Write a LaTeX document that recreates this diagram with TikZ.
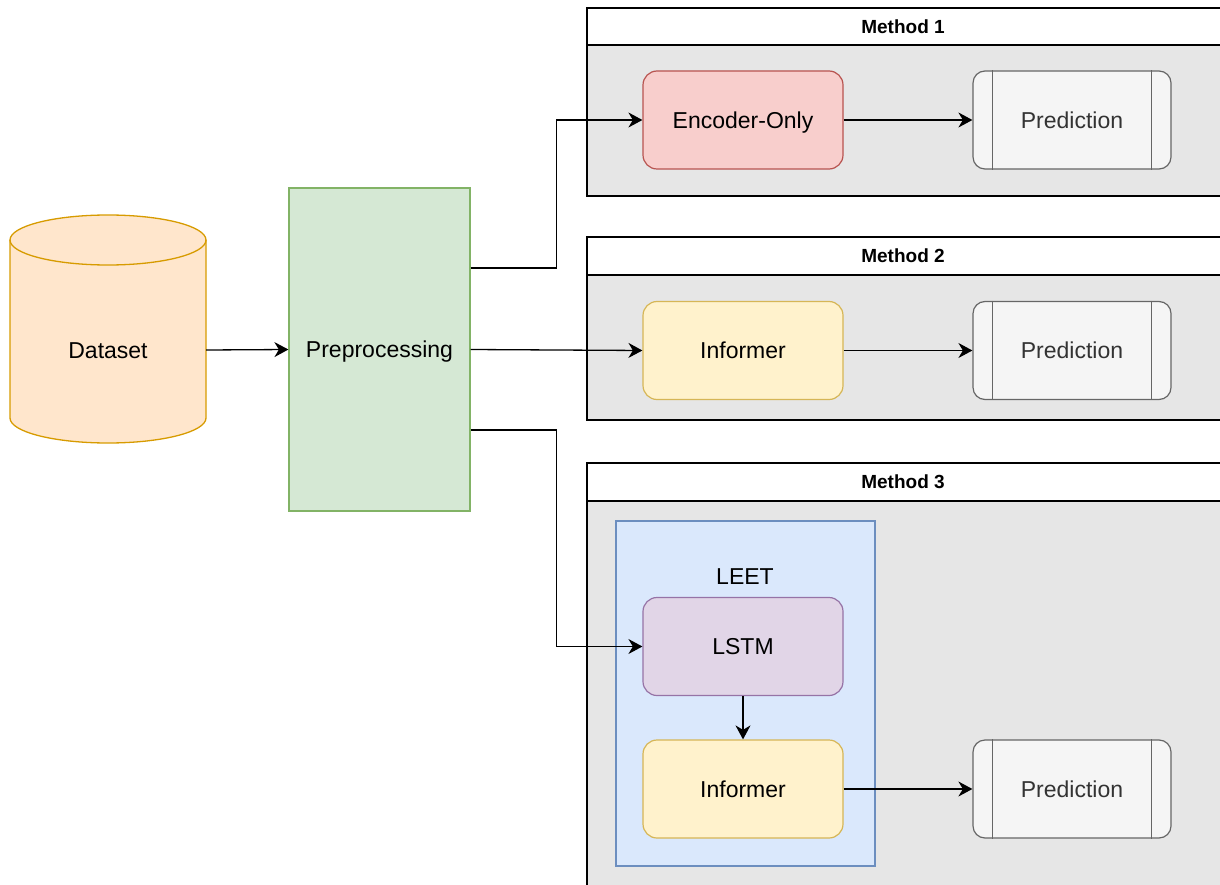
\documentclass[tikz,border=0pt]{standalone}
\usepackage{fontspec}
\setmainfont{Liberation Sans}
\usetikzlibrary{arrows.meta,calc}
\definecolor{cylfill}{HTML}{FFE6CC}
\definecolor{cyldraw}{HTML}{D79B00}
\definecolor{prefill}{HTML}{D5E8D4}
\definecolor{predraw}{HTML}{82B366}
\definecolor{encfill}{HTML}{F8CECC}
\definecolor{encdraw}{HTML}{B85450}
\definecolor{inffill}{HTML}{FFF2CC}
\definecolor{infdraw}{HTML}{D6B656}
\definecolor{lstfill}{HTML}{E1D5E7}
\definecolor{lstdraw}{HTML}{9673A6}
\definecolor{leetfill}{HTML}{DAE8FC}
\definecolor{leetdraw}{HTML}{6C8EBF}
\definecolor{prdfill}{HTML}{F5F5F5}
\definecolor{prddraw}{HTML}{666666}
\definecolor{prdtext}{HTML}{333333}
\definecolor{contfill}{HTML}{E6E6E6}
\tikzset{
  x=1pt, y=1pt,
  every node/.style={font=\fontsize{23}{27}\selectfont, inner sep=0pt, text height=16.5pt, text depth=0pt},
  procbox/.style={rectangle, rounded corners=14pt, line width=1.2pt, minimum width=200pt, minimum height=98pt},
  encbox/.style={procbox, fill=encfill, draw=encdraw},
  infbox/.style={procbox, fill=inffill, draw=infdraw},
  lstbox/.style={procbox, fill=lstfill, draw=lstdraw},
  predbox/.style={rectangle, rounded corners=12pt, line width=1.2pt, minimum width=198pt, minimum height=98pt,
    fill=prdfill, draw=prddraw, text=prdtext},
  predline/.style={draw=prddraw, line width=1.2pt},
  contbody/.style={fill=contfill, draw=black, line width=1.6pt},
  conthead/.style={fill=white, draw=black, line width=1.6pt},
  title/.style={font=\fontsize{19}{23}\selectfont\bfseries, text height=13.6pt},
  arr/.style={line width=1.3pt, -{Stealth[length=14pt, width=15pt, inset=4.5pt]}}
}
\begin{document}
\begin{tikzpicture}
\useasboundingbox (0,0) rectangle (1220,-885);
\clip (0,0) rectangle (1220,-885);

% containers
\draw[contbody] (587,-45) rectangle (1225,-196);
\draw[conthead] (587,-8) rectangle (1225,-45);
\node[title] (m1) at (903,-27) {Method 1};

\draw[contbody] (587,-275) rectangle (1225,-420);
\draw[conthead] (587,-237) rectangle (1225,-275);
\node[title] (m2) at (903,-256) {Method 2};

\draw[contbody] (587,-501) rectangle (1225,-900);
\draw[conthead] (587,-463) rectangle (1225,-501);
\node[title] (m3) at (903,-482) {Method 3};

% LEET box
\node[rectangle, fill=leetfill, draw=leetdraw, line width=1.2pt, minimum width=259pt, minimum height=345pt] (leet) at (745.5,-693.5) {};
\node (leetlbl) at (745,-576) {LEET};

% cylinder
\path[fill=cylfill, draw=cyldraw, line width=1.3pt]
  (10,-240) -- (10,-418) arc[start angle=180, end angle=360, x radius=98, y radius=25]
  -- (206,-240) arc[start angle=0, end angle=180, x radius=98, y radius=25] -- cycle;
\draw[cyldraw, line width=1.3pt] (10,-240) arc[start angle=180, end angle=360, x radius=98, y radius=25];
\node[rectangle, minimum width=196pt, minimum height=186pt] (dataset) at (108,-350) {Dataset};

% preprocessing
\node[rectangle, fill=prefill, draw=predraw, line width=1.2pt, minimum width=181pt, minimum height=323pt] (pre) at (379.5,-349.5) {Preprocessing};

% method boxes
\node[encbox] (enc) at (743,-120) {Encoder-Only};
\node[predbox] (p1) at (1072,-120) {Prediction};
\node[infbox] (inf2) at (743,-350.5) {Informer};
\node[predbox] (p2) at (1072,-350.5) {Prediction};
\node[lstbox] (lstm) at (743,-646.5) {LSTM};
\node[infbox] (inf3) at (743,-789) {Informer};
\node[predbox] (p3) at (1072,-789) {Prediction};

\foreach \p in {p1,p2,p3}{
  \draw[predline] ([xshift=20pt]\p.north west) -- ([xshift=20pt]\p.south west);
  \draw[predline] ([xshift=-20pt]\p.north east) -- ([xshift=-20pt]\p.south east);
}

% connectors
\draw[arr] (dataset.east) -- (pre.west);
\draw[arr] ([yshift=81.5pt]pre.east) -- ++(86,0) |- (enc.west);
\draw[arr] (pre.east) -- (inf2.west);
\draw[arr] ([yshift=-80.5pt]pre.east) -- ++(86,0) |- (lstm.west);
\draw[arr] (enc.east) -- (p1.west);
\draw[arr] (inf2.east) -- (p2.west);
\draw[arr] (lstm.south) -- (inf3.north);
\draw[arr] (inf3.east) -- (p3.west);
\end{tikzpicture}
\end{document}
